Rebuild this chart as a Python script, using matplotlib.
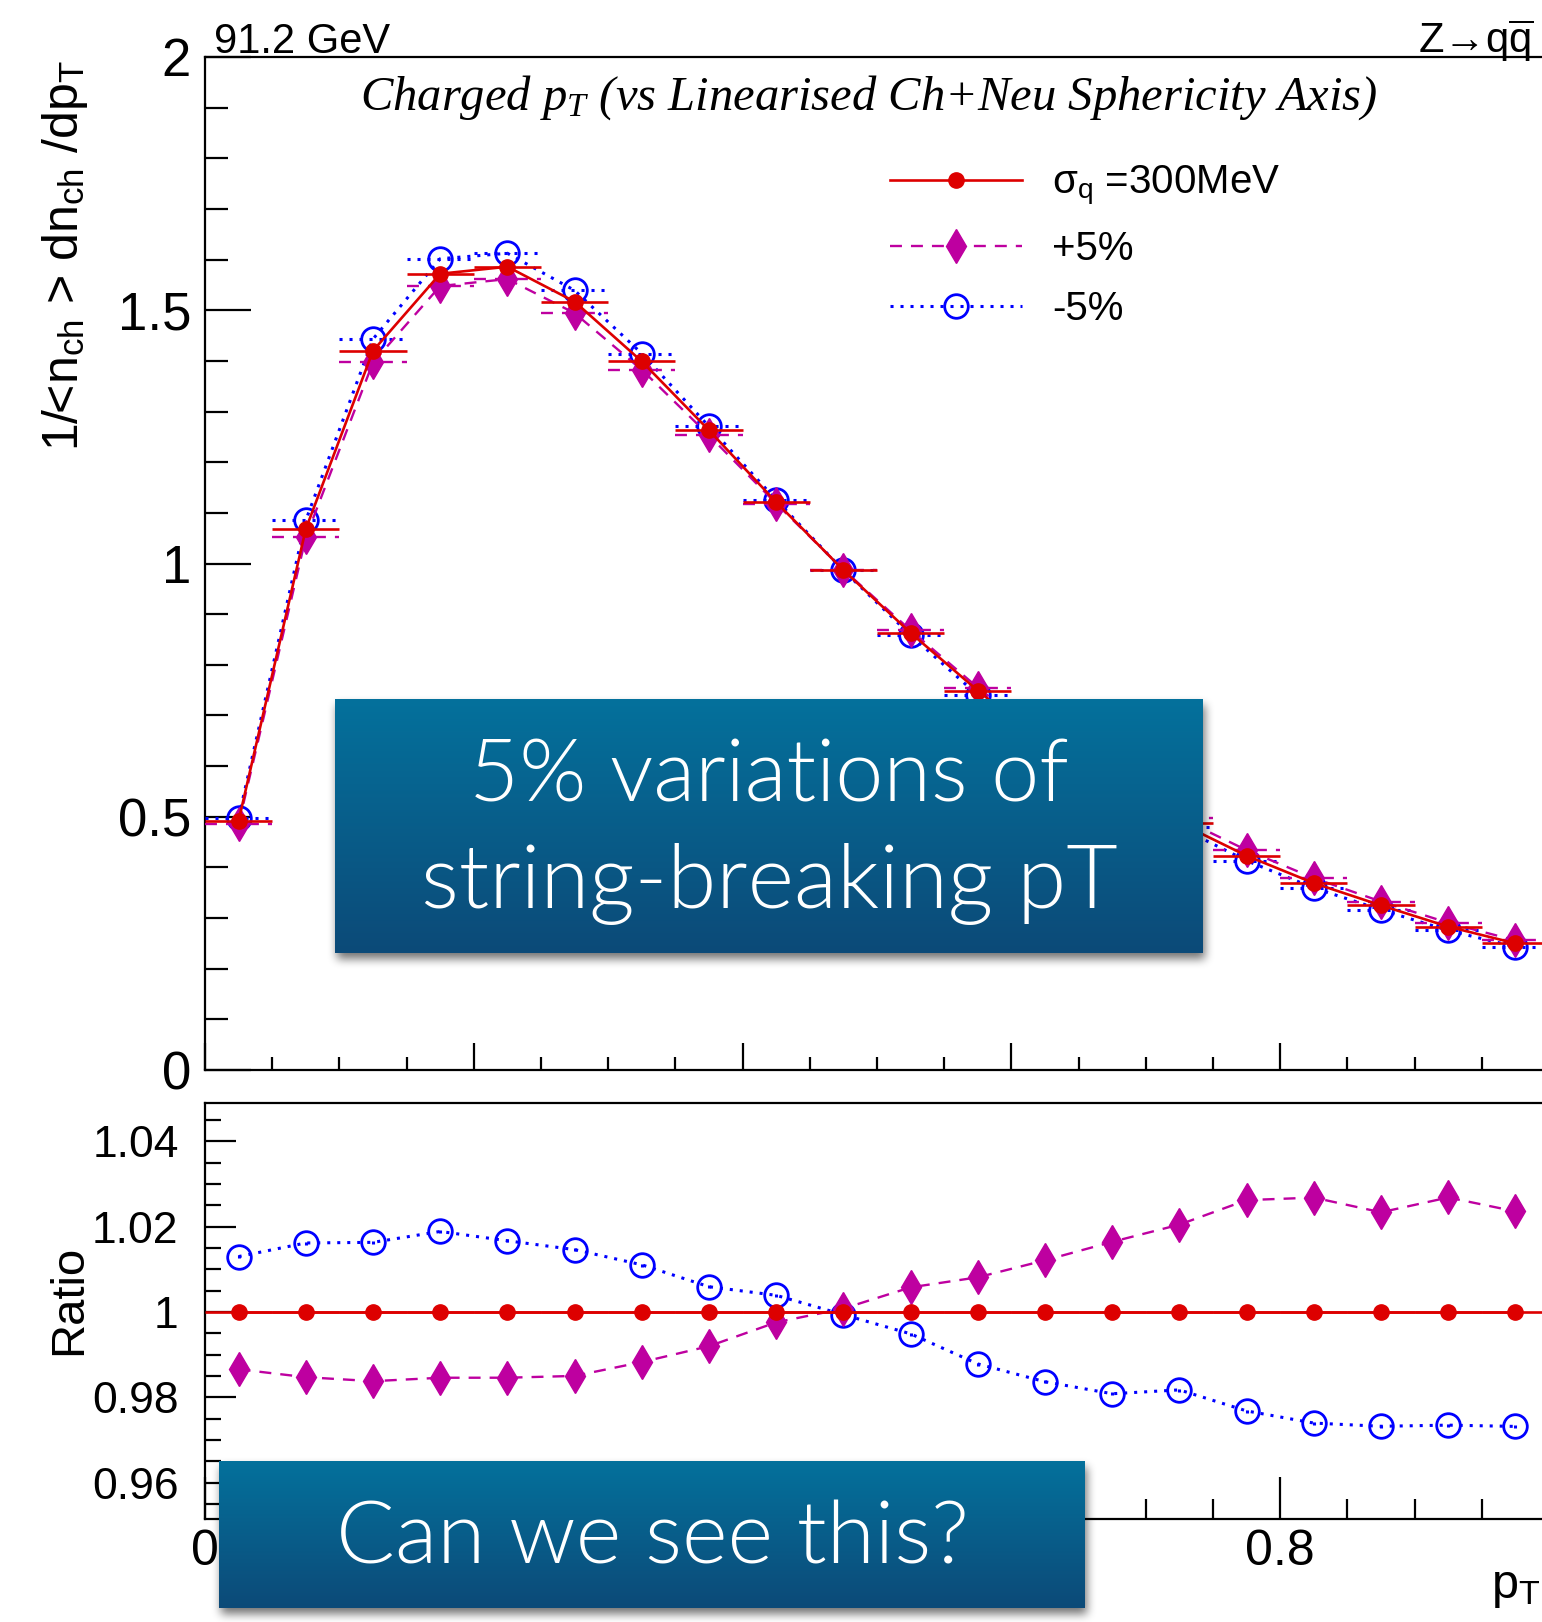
import numpy as np
import matplotlib.pyplot as plt
from matplotlib.lines import Line2D
from matplotlib.ticker import MultipleLocator, FuncFormatter

plt.rcParams['font.family'] = ['Liberation Sans', 'DejaVu Sans']
plt.rcParams['mathtext.fontset'] = 'custom'
plt.rcParams['mathtext.rm'] = 'Liberation Sans'
plt.rcParams['mathtext.it'] = 'Liberation Serif:italic'
plt.rcParams['mathtext.bf'] = 'Liberation Sans:bold'
plt.rcParams['lines.scale_dashes'] = False

# charged pT spectrum, 20 bins of width 0.05
pt = [0.025, 0.075, 0.125, 0.175, 0.225, 0.275, 0.325, 0.375, 0.425, 0.475,
      0.525, 0.575, 0.625, 0.675, 0.725, 0.775, 0.825, 0.875, 0.925, 0.975]
half_width = 0.025

nominal = [0.492, 1.068, 1.420, 1.572, 1.586, 1.517, 1.399, 1.263, 1.121, 0.987,
           0.863, 0.749, 0.643, 0.559, 0.488, 0.423, 0.369, 0.325, 0.283, 0.250]
plus5 = [0.4854, 1.0517, 1.3970, 1.5478, 1.5616, 1.4943, 1.3826, 1.2529, 1.1183, 0.9878,
         0.8680, 0.7551, 0.6508, 0.5682, 0.4980, 0.4341, 0.3789, 0.3326, 0.2906, 0.2559]
minus5 = [0.4984, 1.0853, 1.4432, 1.6017, 1.6125, 1.5392, 1.4145, 1.2705, 1.1254, 0.9864,
          0.8586, 0.7399, 0.6325, 0.5483, 0.4791, 0.4132, 0.3594, 0.3163, 0.2755, 0.2433]

labels = ['σ$_{\\mathrm{q}}$ =300MeV', '+5%', '-5%']
# x labels that stay visible on the ratio panel
shown_xlabels = [0.0, 0.8]

W, H = 1542, 1622

red = '#dd0000'
mag = '#be00a0'
blue = '#0000ff'
styles = [
    dict(color=red, marker='o', ms=11, mec=red, mfc=red, ls='-', lw=1.9),
    dict(color=mag, marker='d', ms=17, mec=mag, mfc=mag, ls=(0, (8.6, 6.5)), lw=1.7),
    dict(color=blue, marker='o', ms=17, mec=blue, mfc='none', mew=2.0, ls=(0, (2.2, 5.0)), lw=2.2),
]


def px_rect(left, top, right, bottom):
    return [left / W, 1 - bottom / H, (right - left) / W, (bottom - top) / H]


def draw_series(ax, y, st, xerr, yerr, z):
    c = ax.errorbar(pt, y, xerr=xerr, yerr=yerr, color=st['color'], marker=st['marker'],
                    ms=st['ms'], mec=st['mec'], mfc=st['mfc'], mew=st.get('mew', 1.0),
                    ls=st['ls'], lw=st['lw'], elinewidth=st['lw'], capsize=0, zorder=z)
    for bar in c[2]:
        bar.set_linestyle(st['ls'])
        bar.set_zorder(z)
    return c


def fmt(v, pos):
    return f'{round(v, 4):g}'


def xfmt(v, pos):
    if any(abs(v - s) < 1e-6 for s in shown_xlabels):
        return fmt(v, pos)
    return ''


fig = plt.figure(figsize=(W / 100, H / 100), dpi=100)

# main panel
ax = fig.add_axes(px_rect(205, 57, 1549, 1070))
series = [nominal, plus5, minus5]
order = [2, 1, 0]
for i in order:
    draw_series(ax, series[i], styles[i], half_width, None, 3 + (2 - i))
ax.set_xlim(0, 1)
ax.set_ylim(0, 2)
ax.xaxis.set_major_locator(MultipleLocator(0.2))
ax.xaxis.set_minor_locator(MultipleLocator(0.05))
ax.yaxis.set_major_locator(MultipleLocator(0.5))
ax.yaxis.set_minor_locator(MultipleLocator(0.1))
ax.yaxis.set_major_formatter(FuncFormatter(fmt))
ax.tick_params(axis='both', which='both', direction='in', width=1.6,
               top=False, right=False, labelbottom=False)
ax.tick_params(axis='y', which='major', length=33, labelsize=38, pad=10)
ax.tick_params(axis='y', which='minor', length=16.5)
ax.tick_params(axis='x', which='major', length=19.5)
ax.tick_params(axis='x', which='minor', length=9.5)
for s in ax.spines.values():
    s.set_linewidth(1.6)

handles = [Line2D([], [], color=st['color'], marker=st['marker'], ms=st['ms'],
                  mec=st['mec'], mfc=st['mfc'], mew=st.get('mew', 1.0),
                  ls=st['ls'], lw=st['lw']) for st in styles]
ax.legend(handles, labels, loc='upper left', bbox_to_anchor=(890 / W, 1 - 164 / H),
          bbox_transform=fig.transFigure, frameon=False, fontsize=29,
          handlelength=95 / 29, handletextpad=22 / 29, labelspacing=0.55,
          borderpad=0, borderaxespad=0)

# ratio panel
rax = fig.add_axes(px_rect(205, 1103, 1549, 1519))
nom = np.array(nominal)
ratios = [nom / nom, np.array(plus5) / nom, np.array(minus5) / nom]
rerr = [0.0004] * len(pt)
for i in order:
    xe = half_width if i == 0 else None
    draw_series(rax, ratios[i], styles[i], xe, rerr, 3 + (2 - i))
rax.set_xlim(0, 1)
rax.set_ylim(0.9515, 1.049)
rax.xaxis.set_major_locator(MultipleLocator(0.2))
rax.xaxis.set_minor_locator(MultipleLocator(0.05))
rax.yaxis.set_major_locator(MultipleLocator(0.02))
rax.yaxis.set_minor_locator(MultipleLocator(0.005))
rax.yaxis.set_major_formatter(FuncFormatter(fmt))
rax.xaxis.set_major_formatter(FuncFormatter(xfmt))
rax.tick_params(axis='both', which='both', direction='in', width=1.6, top=False, right=False)
rax.tick_params(axis='y', which='major', length=22, labelsize=32, pad=19)
rax.tick_params(axis='y', which='minor', length=11.5)
rax.tick_params(axis='x', which='major', length=30, labelsize=36, pad=7)
rax.tick_params(axis='x', which='minor', length=14.5)
for s in rax.spines.values():
    s.set_linewidth(1.6)

# axis titles and captions
fig.text(65 / W, 1 - 60 / H,
         '1/<n$_{\\mathrm{ch}}$ > dn$_{\\mathrm{ch}}$ /dp$_{\\mathrm{T}}$',
         rotation=90, ha='center', va='top', fontsize=36)
fig.text(69 / W, 1 - 1300 / H, 'Ratio', rotation=90, ha='center', va='center', fontsize=34)
fig.text(1540 / W, 1 - 1598 / H, 'p$_{\\mathrm{T}}$', ha='right', va='baseline', fontsize=35)
fig.text(214 / W, 1 - 53 / H, '91.2 GeV', ha='left', va='baseline', fontsize=30)
fig.text(1533 / W, 1 - 53 / H, 'Z→q$\\overline{\\mathrm{q}}$',
         ha='right', va='baseline', fontsize=30)
fig.text(869 / W, 1 - 110 / H,
         'Charged $p_{T}$ (vs Linearised Ch+Neu Sphericity Axis)',
         ha='center', va='baseline', fontsize=35,
         family=['Liberation Serif', 'DejaVu Serif'], style='italic')


# callout boxes with a soft drop shadow
def blur1d(a, r, axis):
    k = np.ones(2 * r + 1) / (2 * r + 1)
    return np.apply_along_axis(lambda m: np.convolve(m, k, mode='same'), axis, a)


def callout(left, top, right, bottom, lines):
    w, h = right - left, bottom - top
    pad = 30
    mask = np.zeros((h + 2 * pad, w + 2 * pad))
    mask[pad + 6:pad + 6 + h, pad + 2:pad + 2 + w] = 1.0
    for _ in range(3):
        mask = blur1d(mask, 4, 0)
        mask = blur1d(mask, 4, 1)
    shadow = np.zeros(mask.shape + (4,))
    shadow[..., 3] = 0.55 * mask
    fig.figimage(shadow, xo=left - pad, yo=H - (bottom + pad), origin='upper', zorder=20)

    top_c = np.array([4, 113, 156]) / 255
    bot_c = np.array([12, 74, 120]) / 255
    t = np.linspace(0, 1, h)[:, None, None]
    grad = top_c * (1 - t) + bot_c * t
    grad = np.repeat(grad, w, axis=1)
    fig.figimage(grad, xo=left, yo=H - bottom, origin='upper', zorder=21)

    for (txt, cx, base, size) in lines:
        fig.text(cx / W, 1 - base / H, txt, ha='center', va='baseline', color='white',
                 fontsize=size, family=['Lato', 'DejaVu Sans'], weight=300, zorder=22)


callout(335, 699, 1203, 953, [('5% variations of', 769, 801, 62.2),
                              ('string-breaking pT', 769, 908, 64.0)])
callout(219, 1461, 1085, 1608, [('Can we see this?', 652, 1564, 62.8)])

fig.savefig('out.png', dpi=100)
